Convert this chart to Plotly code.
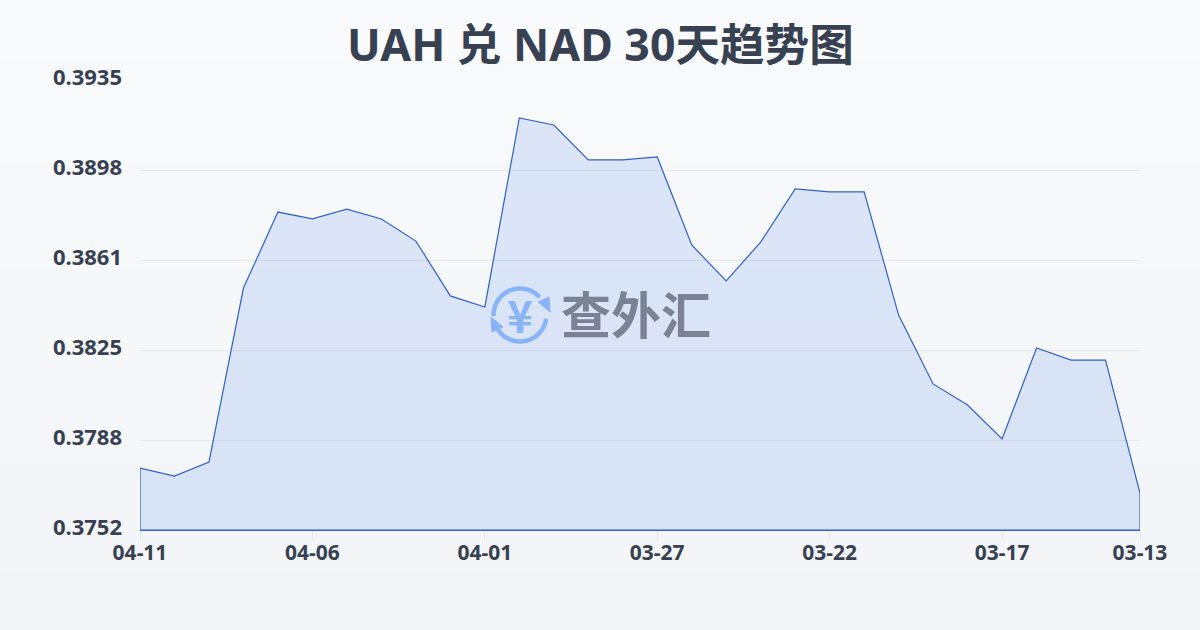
import plotly.graph_objects as go
import math

dates = ["04-11","04-10","04-09","04-08","04-07","04-06","04-05","04-04","04-03","04-02",
         "04-01","03-31","03-30","03-29","03-28","03-27","03-26","03-25","03-24","03-23",
         "03-22","03-21","03-20","03-19","03-18","03-17","03-16","03-15","03-14","03-13"]
rates = [0.37772,0.37739,0.37796,0.38504,0.38813,0.38785,0.38825,0.38785,0.38695,0.38472,
         0.38427,0.39196,0.39167,0.39025,0.39025,0.39037,0.38679,0.38533,0.38691,0.38907,
         0.38895,0.38895,0.38394,0.38114,0.38028,0.3789,0.3826,0.38211,0.38211,0.3767]
y_ticks = [0.3752,0.37886,0.38252,0.38618,0.38984,0.3935]
y_labels = ["0.3752","0.3788","0.3825","0.3861","0.3898","0.3935"]
x_labels = ["04-11","04-06","04-01","03-27","03-22","03-17","03-13"]
title = "UAH 兑 NAD 30天趋势图"
brand = "查外汇"
y_min, y_max = 0.3752, 0.3935

W, H = 1200, 630
L, R, T, B = 140, 60, 80, 100
PW, PH = W - L - R, H - T - B
def px(x): return (x - L) / PW
def py(y): return (T + PH - y) / PH
def path(pts, close=False):
    s = "M" + " L".join(f"{px(x):.5f},{py(y):.5f}" for x, y in pts)
    return s + (" Z" if close else "")

shapes = []
top, bot = (248, 250, 252), (242, 244, 247)
n = 42
for i in range(n):
    t = i / (n - 1)
    c = tuple(round(a + (b - a) * t) for a, b in zip(top, bot))
    shapes.append(dict(type="rect", xref="paper", yref="paper", layer="below",
                       x0=px(0), x1=px(W), y0=py(H * i / n), y1=py(H * (i + 1) / n),
                       fillcolor=f"rgb{c}", line_width=0))

ICON = "#8ab4f8"
def arc(cx, cy, r, a0, a1):
    steps = 24
    return [(cx + r * math.cos(math.radians(a0 + (a1 - a0) * k / steps)),
             cy + r * math.sin(math.radians(a0 + (a1 - a0) * k / steps))) for k in range(steps + 1)]
for a0, a1 in ((178, 318), (8, 168)):
    shapes.append(dict(type="path", xref="paper", yref="paper", layer="above",
                       path=path(arc(520, 315, 26.5, a0, a1)),
                       line=dict(color=ICON, width=4.5)))
for tri in ([(550, 312), (549, 297), (538, 302)], [(491, 317), (492, 332), (503, 327)]):
    shapes.append(dict(type="path", xref="paper", yref="paper", layer="above",
                       path=path(tri, True), fillcolor=ICON, line=dict(color=ICON, width=1)))

fig = go.Figure()
fig.add_trace(go.Scatter(
    x=dates + [dates[-1], dates[0], dates[0]],
    y=rates + [y_min, y_min, rates[0]],
    mode="lines", fill="toself", cliponaxis=False,
    fillcolor="rgba(37,99,235,0.13)",
    line=dict(color="#2f62c9", width=1.2),
    hoverinfo="skip", showlegend=False))

annotations = [
    dict(text=title, xref="paper", yref="paper", x=px(600), y=py(44), showarrow=False,
         xanchor="center", yanchor="middle",
         font=dict(family="Noto Sans, Noto Sans CJK SC", size=44.6, color="#374151", weight="bold")),
    dict(text=brand, xref="paper", yref="paper", x=px(636), y=py(312), showarrow=False,
         xanchor="center", yanchor="middle",
         font=dict(family="Noto Sans CJK SC", size=50, color="#7a8294", weight="bold")),
    dict(text="¥", xref="paper", yref="paper", x=px(520), y=py(314), showarrow=False,
         xanchor="center", yanchor="middle",
         font=dict(family="Noto Sans CJK SC", size=44, color=ICON, weight="bold")),
]

fig.update_layout(
    width=W, height=H, autosize=False,
    margin=dict(l=L, r=R, t=T, b=B),
    paper_bgcolor="#f5f7fa", plot_bgcolor="rgba(0,0,0,0)",
    shapes=shapes, annotations=annotations,
    xaxis=dict(type="category", categoryorder="array", categoryarray=dates,
               range=[0, len(dates) - 1], tickmode="array", tickvals=x_labels, ticktext=x_labels,
               showgrid=False, zeroline=False, showline=True, linecolor="#2f62c9", linewidth=1,
               ticks="outside", ticklen=10, tickwidth=1, tickcolor="#e2e5ea",
               ticklabelstandoff=-6,
               tickfont=dict(family="Noto Sans", size=21, color="#374151", weight="bold")),
    yaxis=dict(range=[y_min, y_max], tickmode="array", tickvals=y_ticks, ticktext=y_labels,
               showgrid=True, gridcolor="#e5e7eb", gridwidth=1, zeroline=False, showline=False,
               ticks="", ticklabelstandoff=17, ticklabelshift=-3,
               tickfont=dict(family="Noto Sans", size=22, color="#374151", weight="bold")),
)
fig.write_html("out.html", config=dict(displayModeBar=False),
               post_script="document.body.style.margin='0';document.documentElement.style.overflow='hidden';")
